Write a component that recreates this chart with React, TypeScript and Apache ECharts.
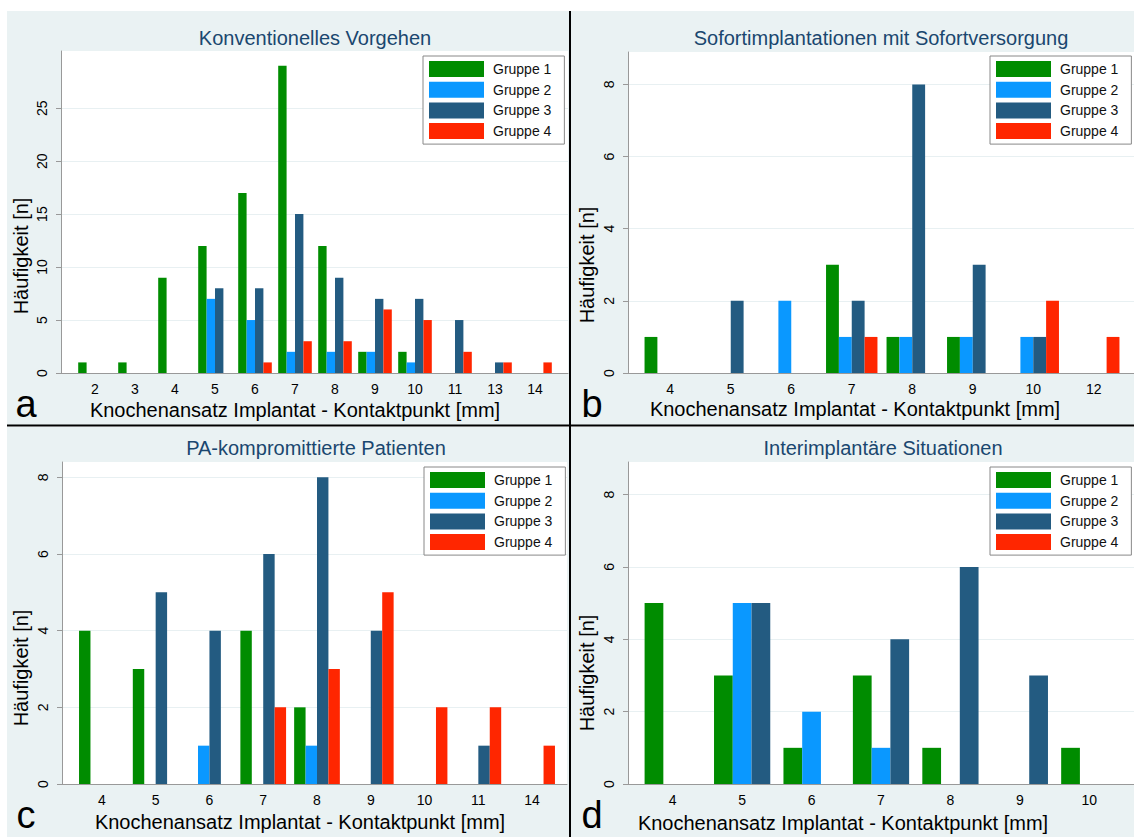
import React, { useEffect, useRef } from "react";
import * as echarts from "echarts";

// ---------- data ----------
const GROUPS = ["Gruppe 1", "Gruppe 2", "Gruppe 3", "Gruppe 4"];
const COLORS = ["#008c00", "#0a98ff", "#235b81", "#ff2600"];

const A_TITLE = "Konventionelles Vorgehen";
const A_CATS = ["2", "3", "4", "5", "6", "7", "8", "9", "10", "11", "13", "14"];
const A_G1 = [1, 1, 9, 12, 17, 29, 12, 2, 2, 0, 0, 0];
const A_G2 = [0, 0, 0, 7, 5, 2, 2, 2, 1, 0, 0, 0];
const A_G3 = [0, 0, 0, 8, 8, 15, 9, 7, 7, 5, 1, 0];
const A_G4 = [0, 0, 0, 0, 1, 3, 3, 6, 5, 2, 1, 1];
const A_TICKS = [0, 5, 10, 15, 20, 25];
const A_MAX = 30.4;

const B_TITLE = "Sofortimplantationen mit Sofortversorgung";
const B_CATS = ["4", "5", "6", "7", "8", "9", "10", "12"];
const B_G1 = [1, 0, 0, 3, 1, 1, 0, 0];
const B_G2 = [0, 0, 2, 1, 1, 1, 1, 0];
const B_G3 = [0, 2, 0, 2, 8, 3, 1, 0];
const B_G4 = [0, 0, 0, 1, 0, 0, 2, 1];
const B_TICKS = [0, 2, 4, 6, 8];
const B_MAX = 8.9;

const C_TITLE = "PA-kompromittierte Patienten";
const C_CATS = ["4", "5", "6", "7", "8", "9", "10", "11", "14"];
const C_G1 = [4, 3, 0, 4, 2, 0, 0, 0, 0];
const C_G2 = [0, 0, 1, 0, 1, 0, 0, 0, 0];
const C_G3 = [0, 5, 4, 6, 8, 4, 0, 1, 0];
const C_G4 = [0, 0, 0, 2, 3, 5, 2, 2, 1];
const C_TICKS = [0, 2, 4, 6, 8];
const C_MAX = 8.4;

const D_TITLE = "Interimplantäre Situationen";
const D_CATS = ["4", "5", "6", "7", "8", "9", "10"];
const D_G1 = [5, 3, 1, 3, 1, 0, 1];
const D_G2 = [0, 5, 2, 1, 0, 0, 0];
const D_G3 = [0, 5, 0, 4, 6, 3, 0];
const D_TICKS = [0, 2, 4, 6, 8];
const D_MAX = 8.9;

const X_TITLE = "Knochenansatz Implantat - Kontaktpunkt [mm]";
const Y_TITLE = "Häufigkeit [n]";
const LETTERS = ["a", "b", "c", "d"];

// ---------- layout ----------
const FONT = "'Liberation Sans', Arial, Helvetica, sans-serif";
const TITLE_COLOR = "#1a476f";
const BG = "#eaf2f3";
const AXIS_COLOR = "#999999";

type Layout = {
  bg: [number, number, number, number];
  plot: { l: number; t: number; r: number; b: number };
  band: { l: number; r: number };
  title: [number, number];
  xTitle: [number, number];
  yTitle: [number, number];
  letter: [number, number];
  legend: [number, number];
  gap: string;
};

const LAYOUTS: Layout[] = [
  {
    bg: [7, 11, 562, 414],
    plot: { l: 61, t: 51, r: 568, b: 373 },
    band: { l: 75, r: 555 },
    title: [315, 38],
    xTitle: [295, 410],
    yTitle: [21, 256],
    letter: [26, 404],
    legend: [423, 56],
    gap: "16%",
  },
  {
    bg: [571, 11, 563, 414],
    plot: { l: 628, t: 52, r: 1134, b: 373 },
    band: { l: 640, r: 1124 },
    title: [881, 38],
    xTitle: [855, 409],
    yTitle: [587, 265],
    letter: [592, 404],
    legend: [990, 56],
    gap: "15%",
  },
  {
    bg: [7, 427, 562, 410],
    plot: { l: 62, t: 462, r: 567, b: 784 },
    band: { l: 75, r: 559 },
    title: [316, 448],
    xTitle: [300, 822],
    yTitle: [21, 668],
    letter: [26, 815],
    legend: [424, 467],
    gap: "15%",
  },
  {
    bg: [571, 427, 563, 410],
    plot: { l: 628, t: 462, r: 1134, b: 784 },
    band: { l: 638, r: 1124 },
    title: [883, 448],
    xTitle: [843, 823],
    yTitle: [587, 673],
    letter: [592, 815],
    legend: [990, 467],
    gap: "19%",
  },
];

type Panel = {
  title: string;
  cats: string[];
  groups: number[][];
  ticks: number[];
  max: number;
};

const PANELS: Panel[] = [
  { title: A_TITLE, cats: A_CATS, groups: [A_G1, A_G2, A_G3, A_G4], ticks: A_TICKS, max: A_MAX },
  { title: B_TITLE, cats: B_CATS, groups: [B_G1, B_G2, B_G3, B_G4], ticks: B_TICKS, max: B_MAX },
  { title: C_TITLE, cats: C_CATS, groups: [C_G1, C_G2, C_G3, C_G4], ticks: C_TICKS, max: C_MAX },
  { title: D_TITLE, cats: D_CATS, groups: [D_G1, D_G2, D_G3], ticks: D_TICKS, max: D_MAX },
];

function buildOption() {
  const grid: any[] = [];
  const xAxis: any[] = [];
  const yAxis: any[] = [];
  const series: any[] = [];
  const legend: any[] = [];
  const graphic: any[] = [];

  PANELS.forEach((p, i) => {
    const L = LAYOUTS[i];
    const h = L.plot.b - L.plot.t;
    const interval = p.ticks[1] - p.ticks[0];

    // full plot-area grid (y axis, x axis line)
    grid.push({ left: L.plot.l, top: L.plot.t, width: L.plot.r - L.plot.l, height: h, containLabel: false });
    const gA = grid.length - 1;
    xAxis.push({
      type: "value",
      gridIndex: gA,
      min: 0,
      max: 1,
      axisLine: { show: true, onZero: false, lineStyle: { color: AXIS_COLOR, width: 1 } },
      axisTick: { show: false },
      axisLabel: { show: false },
      splitLine: { show: false },
    });
    yAxis.push({
      type: "value",
      gridIndex: gA,
      min: 0,
      max: p.max,
      interval,
      axisLine: { show: true, lineStyle: { color: AXIS_COLOR, width: 1 } },
      axisTick: { show: true, length: 5, customValues: p.ticks, lineStyle: { color: AXIS_COLOR } },
      axisLabel: {
        show: true,
        rotate: 90,
        customValues: p.ticks,
        margin: 12,
        fontSize: 14,
        color: "#000",
        fontFamily: FONT,
        formatter: (v: number) => (p.ticks.indexOf(v) >= 0 ? String(v) : ""),
      },
      splitLine: { show: true, lineStyle: { color: "#e8f0f2", width: 1 } },
    });

    // band grid for bars
    grid.push({ left: L.band.l, top: L.plot.t, width: L.band.r - L.band.l, height: h, containLabel: false });
    const gB = grid.length - 1;
    xAxis.push({
      type: "category",
      gridIndex: gB,
      data: p.cats,
      boundaryGap: true,
      axisLine: { show: false },
      axisTick: { show: false },
      axisLabel: { show: true, interval: 0, margin: 9, fontSize: 14, color: "#000", fontFamily: FONT },
      splitLine: { show: false },
    });
    yAxis.push({
      type: "value",
      gridIndex: gB,
      min: 0,
      max: p.max,
      interval,
      show: false,
      splitLine: { show: false },
    });
    const xi = xAxis.length - 1;
    const yi = yAxis.length - 1;
    p.groups.forEach((vals, g) => {
      series.push({
        name: GROUPS[g],
        type: "bar",
        xAxisIndex: xi,
        yAxisIndex: yi,
        data: vals,
        barGap: "0%",
        barCategoryGap: L.gap,
        itemStyle: { color: COLORS[g] },
        emphasis: { disabled: true },
      });
    });

    legend.push({
      data: GROUPS,
      orient: "vertical",
      left: L.legend[0],
      top: L.legend[1],
      itemWidth: 55,
      itemHeight: 16,
      itemGap: 4.7,
      icon: "rect",
      padding: [5, 13, 5, 6],
      backgroundColor: "#ffffff",
      borderColor: "#888888",
      borderWidth: 1,
      borderRadius: 0,
      selectedMode: false,
      textStyle: { fontSize: 14, color: "#111", fontFamily: FONT, padding: [0, 0, 0, 4] },
    });

    // backgrounds
    graphic.push({
      type: "rect",
      z: -20,
      shape: { x: L.bg[0], y: L.bg[1], width: L.bg[2], height: L.bg[3] },
      style: { fill: BG },
      silent: true,
    });
    graphic.push({
      type: "rect",
      z: -10,
      shape: { x: L.plot.l, y: L.plot.t, width: L.plot.r - L.plot.l, height: h },
      style: { fill: "#ffffff" },
      silent: true,
    });
    // texts
    const txt = (text: string, x: number, y: number, size: number, color: string, rotation = 0) => ({
      type: "text",
      x,
      y,
      rotation,
      z: 50,
      silent: true,
      style: {
        text,
        font: `${size}px ${FONT}`,
        fill: color,
        align: "center",
        verticalAlign: "middle",
        textAlign: "center",
        textVerticalAlign: "middle",
      },
    });
    graphic.push(txt(p.title, L.title[0], L.title[1], 20, TITLE_COLOR));
    graphic.push(txt(X_TITLE, L.xTitle[0], L.xTitle[1], 20, "#000"));
    graphic.push(txt(Y_TITLE, L.yTitle[0], L.yTitle[1], 20, "#000", Math.PI / 2));
    graphic.push(txt(LETTERS[i], L.letter[0], L.letter[1], 38, "#000"));
  });

  // separators
  graphic.push({
    type: "line",
    z: 60,
    silent: true,
    shape: { x1: 570, y1: 11, x2: 570, y2: 837 },
    style: { stroke: "#000", lineWidth: 2 },
  });
  graphic.push({
    type: "line",
    z: 60,
    silent: true,
    shape: { x1: 7, y1: 425.5, x2: 1134, y2: 425.5 },
    style: { stroke: "#000", lineWidth: 2 },
  });

  return {
    animation: false,
    backgroundColor: "#ffffff",
    textStyle: { fontFamily: FONT },
    grid,
    xAxis,
    yAxis,
    series,
    legend,
    graphic,
  };
}

export default function App() {
  const ref = useRef<HTMLDivElement>(null);
  useEffect(() => {
    if (!ref.current) return;
    const chart = echarts.init(ref.current, undefined, { renderer: "svg" });
    chart.setOption(buildOption() as any);
    return () => chart.dispose();
  }, []);
  return (
    <div
      ref={ref}
      style={{ position: "absolute", left: 0, top: 0, width: 1134, height: 837 }}
    />
  );
}
